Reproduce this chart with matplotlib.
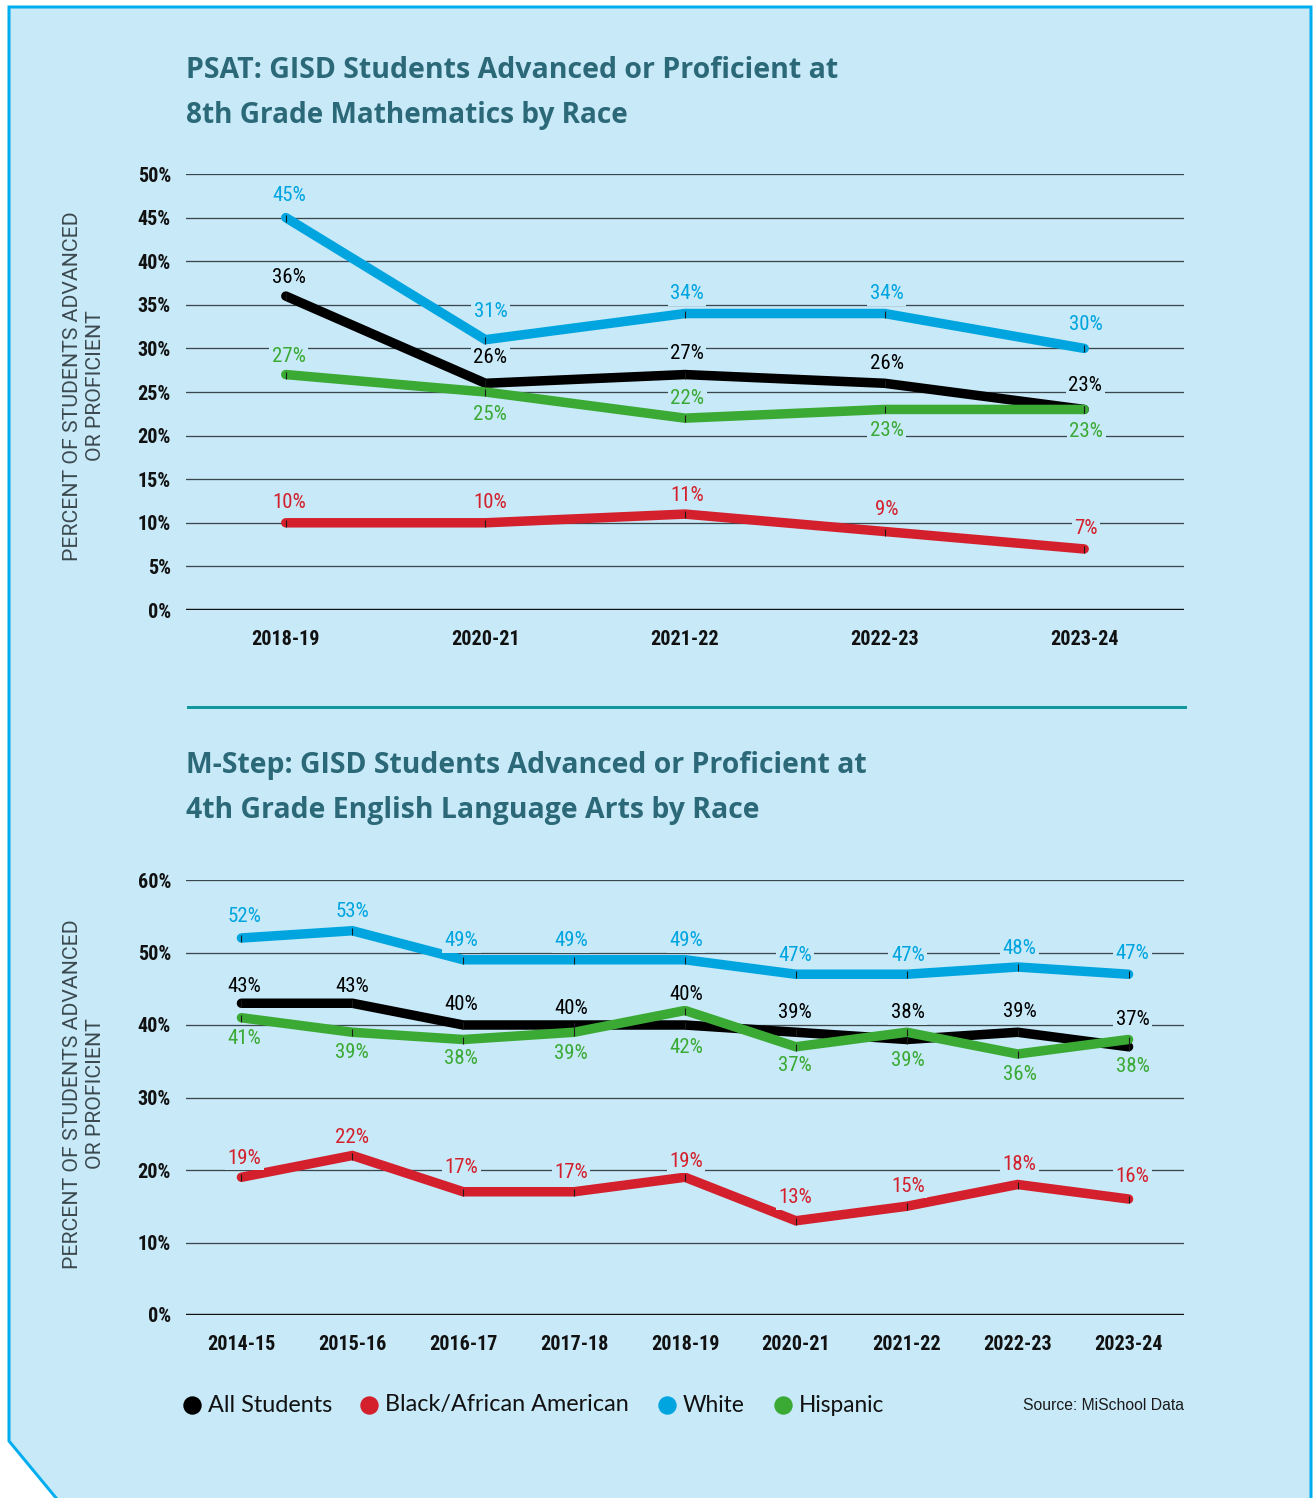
import matplotlib
matplotlib.use("Agg")
import matplotlib.pyplot as plt
from matplotlib import font_manager as fm
from matplotlib.patches import Polygon
from matplotlib.lines import Line2D

# ---------------- data ----------------
psat_years = ["2018-19", "2020-21", "2021-22", "2022-23", "2023-24"]
psat_all = [36, 26, 27, 26, 23]
psat_black = [10, 10, 11, 9, 7]
psat_white = [45, 31, 34, 34, 30]
psat_hisp = [27, 25, 22, 23, 23]
psat_yticks = [0, 5, 10, 15, 20, 25, 30, 35, 40, 45, 50]

mstep_years = ["2014-15", "2015-16", "2016-17", "2017-18", "2018-19",
               "2020-21", "2021-22", "2022-23", "2023-24"]
mstep_white = [52, 53, 49, 49, 49, 47, 47, 48, 47]
mstep_all = [43, 43, 40, 40, 40, 39, 38, 39, 37]
mstep_hisp = [41, 39, 38, 39, 42, 37, 39, 36, 38]
mstep_black = [19, 22, 17, 17, 19, 13, 15, 18, 16]
mstep_yticks = [0, 10, 20, 30, 40, 50, 60]

series_names = ["All Students", "Black/African American", "White", "Hispanic"]

# ---------------- style ----------------
W, H = 1314, 1498
DPI = 100
BG = "#C7E9F8"
BORDER = "#00AEEF"
TITLE_C = "#2B6878"
SEP_C = "#11979D"
GRID_C = "#3A474D"
C_ALL = "#000000"
C_BLACK = "#D4202C"
C_WHITE = "#00A5E0"
C_HISP = "#3BAA34"
MARK_C = "#1a1a1a"
series_colors = [C_ALL, C_BLACK, C_WHITE, C_HISP]

names = {f.name for f in fm.fontManager.ttflist}


def pick(cands):
    for c in cands:
        if c in names:
            return c
    return "DejaVu Sans"


COND = pick(["Roboto Condensed", "Liberation Sans Narrow", "Liberation Sans"])
TITLE_F = pick(["Open Sans", "Lato", "Noto Sans"])
LEG_F = pick(["Lato", "Roboto Condensed", "Liberation Sans"])
YL_F = pick(["Roboto", "Liberation Sans"])
SRC_F = pick(["Liberation Sans", "DejaVu Sans"])

fig = plt.figure(figsize=(W / DPI, H / DPI), dpi=DPI)
fig.patch.set_facecolor("white")
renderer = fig.canvas.get_renderer()


def fx(x):
    return x / W


def fy(y):
    return 1 - y / H


def px2pt(p):
    return p * 72.0 / DPI


# background panel with cut corner
poly = Polygon([(fx(9), fy(7)), (fx(1311), fy(7)), (fx(1311), fy(1510)),
                (fx(66), fy(1510)), (fx(9), fy(1441))],
               closed=True, transform=fig.transFigure, facecolor=BG,
               edgecolor=BORDER, linewidth=px2pt(3), zorder=-10)
fig.patches.append(poly)


def fit_text(x, y, s, target_w, size0, **kw):
    t = fig.text(x, y, s, fontsize=size0, **kw)
    w = t.get_window_extent(renderer).width
    if w > 0 and target_w > 0:
        t.set_fontsize(size0 * target_w / w)
    return t


# titles
fit_text(fx(186), fy(70), "PSAT: GISD Students Advanced or Proficient at", 652, 20,
         family=TITLE_F, weight="bold", color=TITLE_C, va="center", ha="left")
fit_text(fx(186), fy(115), "8th Grade Mathematics by Race", 442, 20,
         family=TITLE_F, weight="bold", color=TITLE_C, va="center", ha="left")
fit_text(fx(186), fy(765), "M-Step: GISD Students Advanced or Proficient at", 680, 20,
         family=TITLE_F, weight="bold", color=TITLE_C, va="center", ha="left")
fit_text(fx(186), fy(810), "4th Grade English Language Arts by Race", 572, 20,
         family=TITLE_F, weight="bold", color=TITLE_C, va="center", ha="left")

# separator
fig.add_artist(Line2D([fx(188), fx(1185)], [fy(707), fy(707)], color=SEP_C,
                      linewidth=px2pt(3), transform=fig.transFigure))


def make_axes(top, bottom, ymax, yticks, years):
    ax = fig.add_axes([fx(186), fy(bottom), fx(1184) - fx(186), fy(top) - fy(bottom)])
    ax.set_facecolor("none")
    ax.set_zorder(2)
    ax.set_xlim(-0.5, len(years) - 0.5)
    ax.set_ylim(0, ymax)
    for s in ax.spines.values():
        s.set_visible(False)
    for v in yticks:
        ax.axhline(v, color="#111111" if v == 0 else GRID_C,
                   linewidth=px2pt(2.4 if v == 0 else 1.3), zorder=1)
    ax.set_yticks(yticks)
    ax.set_yticklabels([f"{v}%" for v in yticks], family=COND, weight="bold",
                       fontsize=14.5, color="#111111")
    ax.set_xticks(range(len(years)))
    ax.set_xticklabels(years, family=COND, weight="bold", fontsize=14.5, color="#111111")
    ax.tick_params(axis="both", length=0)
    ax.tick_params(axis="y", pad=px2pt(15))
    ax.tick_params(axis="x", pad=px2pt(20))
    return ax


def draw(ax, vals, color, offs):
    x = range(len(vals))
    ax.plot(x, vals, color=color, linewidth=px2pt(9.5), solid_capstyle="round",
            solid_joinstyle="miter", zorder=3, clip_on=False)
    ax.plot(x, vals, linestyle="none", marker="|", markersize=px2pt(7),
            markeredgecolor=MARK_C, markeredgewidth=0.8, zorder=4, clip_on=False)
    for i, v in enumerate(vals):
        dx, dy = offs[i]
        ax.annotate(f"{v}%", (i, v), xytext=(px2pt(dx), -px2pt(dy)),
                    textcoords="offset points", ha="center", va="center",
                    family=COND, fontsize=15, color=color, zorder=5,
                    bbox=dict(boxstyle="square,pad=0.12", facecolor=BG, edgecolor="none"))


# ---- top chart ----
ax1 = make_axes(174, 610, 50, psat_yticks, psat_years)
draw(ax1, psat_white, C_WHITE, [(3, -22), (5, -28), (2, -20), (2, -20), (2, -24)])
draw(ax1, psat_all, C_ALL, [(3, -19), (5, -26), (2, -21), (2, -20), (1, -24)])
draw(ax1, psat_hisp, C_HISP, [(3, -18), (5, 22), (2, -20), (2, 21), (2, 22)])
draw(ax1, psat_black, C_BLACK, [(3, -20), (5, -20), (2, -19), (2, -22), (2, -20)])

# ---- bottom chart ----
ax2 = make_axes(880, 1315, 60, mstep_yticks, mstep_years)
draw(ax2, mstep_white, C_WHITE, [(3, -22), (0, -19), (-2, -19), (-3, -19), (1, -19),
                                 (-1, -19), (1, -19), (2, -19), (4, -21)])
draw(ax2, mstep_all, C_ALL, [(3, -17), (0, -17), (-2, -21), (-3, -17), (1, -31),
                             (-1, -20), (1, -27), (2, -21), (4, -27)])
draw(ax2, mstep_hisp, C_HISP, [(3, 21), (0, 20), (-2, 19), (-3, 21), (1, 37),
                               (-1, 19), (1, 28), (2, 20), (4, 27)])
draw(ax2, mstep_black, C_BLACK, [(3, -19), (0, -18), (-2, -24), (-3, -19), (1, -16),
                                 (-1, -23), (1, -20), (2, -20), (4, -23)])

# y labels
for yc in (386, 1094):
    fig.text(fx(84), fy(yc), "PERCENT OF STUDENTS ADVANCED\nOR PROFICIENT", fontsize=15.3,
             family=YL_F, color="#3C4A50", rotation=90, ha="center", va="center",
             multialignment="center", linespacing=1.25)

# legend (manual placement)
leg_dot_x = [192, 369, 667, 783]
leg_text_w = [125, 243, 62, 85]
for name, c, dxp, tw in zip(series_names, series_colors, leg_dot_x, leg_text_w):
    fig.add_artist(Line2D([fx(dxp)], [fy(1405)], linestyle="none", marker="o",
                          markersize=px2pt(17), markerfacecolor=c, markeredgecolor=c,
                          transform=fig.transFigure))
    fit_text(fx(dxp + 16), fy(1405), name, tw, 17, family=LEG_F, color="#111111",
             ha="left", va="center")

fig.text(fx(1184), fy(1406), "Source: MiSchool Data", family=SRC_F, fontsize=11.3,
         color="#1a1a1a", ha="right", va="center")

fig.savefig("out.png", dpi=DPI, facecolor=fig.get_facecolor())
